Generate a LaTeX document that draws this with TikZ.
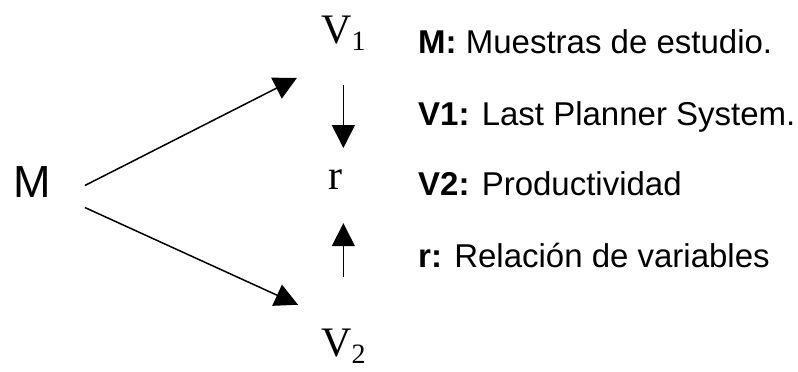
\documentclass[tikz,border=0pt]{standalone}
\usepackage{fontspec}
\setmainfont{Liberation Sans}
\newfontfamily\varfont{Liberation Serif}
\usetikzlibrary{arrows.meta}
\newcommand{\varsub}[2]{#1\raisebox{-7pt}{\fontsize{28}{30}\selectfont #2}}

\begin{document}
\begin{tikzpicture}[
    x=1pt, y=-1pt,
    every node/.style={inner sep=0pt},
    var/.style={font=\fontsize{42}{48}\varfont, anchor=base west},
    legend/.style={font=\fontsize{33}{40}\selectfont, anchor=base west},
    arrow/.style={-{Triangle[length=23pt, width=23pt]}, line width=1.5pt},
]
\useasboundingbox (0,0) rectangle (798,372);
% diagram
\node[var, font=\fontsize{45}{50}\selectfont] (M) at (13,197) {M};
\node[var] (V1) at (321,43) {\varsub{V}{1}};
\node[var] (V2) at (321,356) {\varsub{V}{2}};
\node[var, anchor=base] (r) at (335,189) {r};
\draw[arrow] ([shift={(34,4)}]M.east) -- ([shift={(-24,45)}]V1.west);
\draw[arrow] ([shift={(34,26)}]M.east) -- ([shift={(-23,-41)}]V2.west);
\draw[arrow, shorten <=35pt, shorten >=21pt] (V1.south) -- (V1.south |- r.north);
\draw[arrow, shorten <=51pt, shorten >=34pt] (V2.north) -- (V2.north |- r.south);
% legend
\node[legend] (lm) at (418,53) {\textbf{M:} Muestras de estudio.};
\node[legend] (lv1) at (418,125) {\textbf{V1:} Last Planner System.};
\node[legend] (lv2) at (418,195) {\textbf{V2:} Productividad};
\node[legend] (lr) at (418,267) {\textbf{r:} Relación de variables};
\end{tikzpicture}
\end{document}
